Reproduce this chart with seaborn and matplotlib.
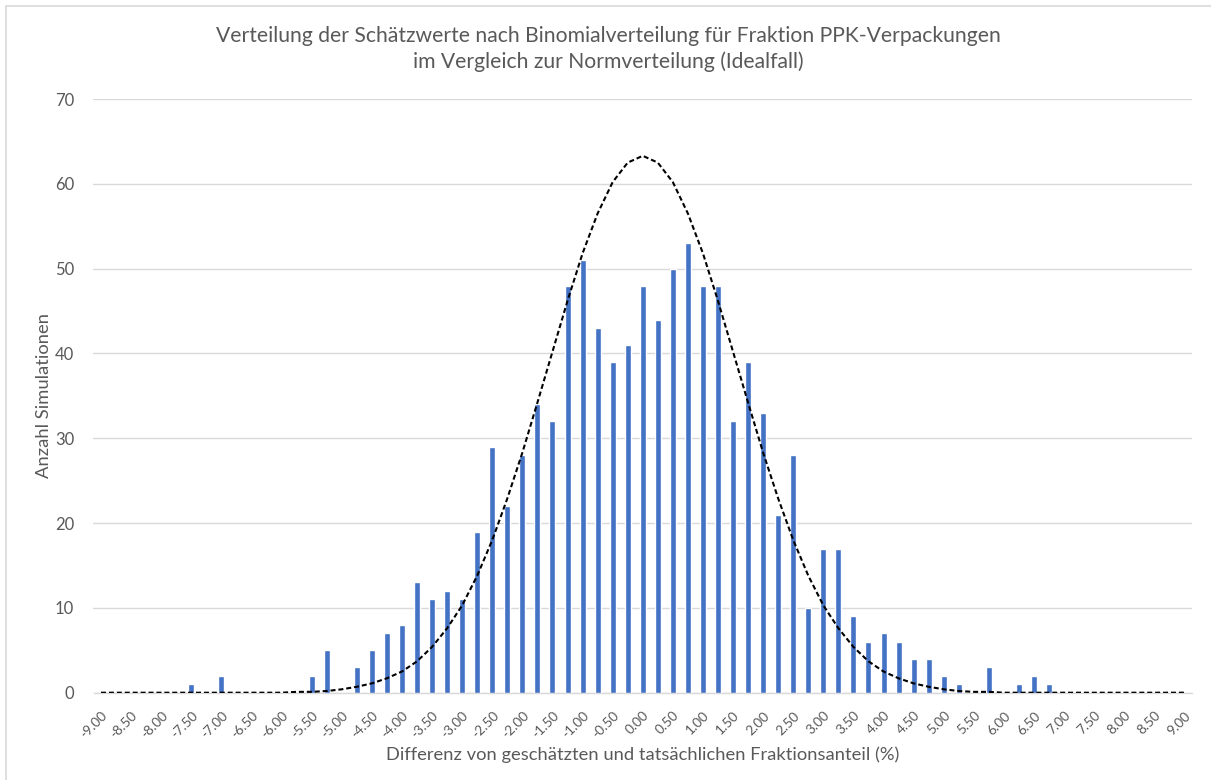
import numpy as np
import pandas as pd
import matplotlib
matplotlib.use("Agg")
import matplotlib.pyplot as plt
import seaborn as sns

# ---- data ----
categories = [f"{v:.2f}" for v in np.arange(-9.0, 9.001, 0.25)]

counts_nonzero = {
    "-7.50": 1, "-7.00": 2, "-5.50": 2, "-5.25": 5, "-4.75": 3, "-4.50": 5,
    "-4.25": 7, "-4.00": 8, "-3.75": 13, "-3.50": 11, "-3.25": 12, "-3.00": 11,
    "-2.75": 19, "-2.50": 29, "-2.25": 22, "-2.00": 28, "-1.75": 34, "-1.50": 32,
    "-1.25": 48, "-1.00": 51, "-0.75": 43, "-0.50": 39, "-0.25": 41, "0.00": 48,
    "0.25": 44, "0.50": 50, "0.75": 53, "1.00": 48, "1.25": 48, "1.50": 32,
    "1.75": 39, "2.00": 33, "2.25": 21, "2.50": 28, "2.75": 10, "3.00": 17,
    "3.25": 17, "3.50": 9, "3.75": 6, "4.00": 7, "4.25": 6, "4.50": 4,
    "4.75": 4, "5.00": 2, "5.25": 1, "5.75": 3, "6.25": 1, "6.50": 2, "6.75": 1,
}

# normal curve values read at each category (ideal case), from 0.00 outwards
normal_right = [63.3, 62.5, 60.2, 56.5, 51.8, 46.2, 40.2, 34.2, 28.3, 22.9,
                18.0, 13.8, 10.3, 7.6, 5.4, 3.7, 2.5, 1.7, 1.1, 0.7,
                0.4, 0.2, 0.1, 0.1, 0.0, 0.0, 0.0, 0.0, 0.0, 0.0,
                0.0, 0.0, 0.0, 0.0, 0.0, 0.0, 0.0]
normal_curve = normal_right[:0:-1] + normal_right

tick_labels = [f"{v:.2f}" for v in np.arange(-9.0, 9.001, 0.5)]

title = ("Verteilung der Schätzwerte nach Binomialverteilung für Fraktion PPK-Verpackungen\n"
         "im Vergleich zur Normverteilung (Idealfall)")
xlabel = "Differenz von geschätzten und tatsächlichen Fraktionsanteil (%)"
ylabel = "Anzahl Simulationen"

df = pd.DataFrame({
    "cat": categories,
    "count": [counts_nonzero.get(c, 0) for c in categories],
    "normal": normal_curve,
})

# ---- style ----
sns.set_theme(style="white")
plt.rcParams["font.family"] = ["Lato", "DejaVu Sans"]
GREY = "#595959"
GRID = "#D9D9D9"

fig = plt.figure(figsize=(12.11, 7.80), dpi=100)
ax = fig.add_axes([93.5 / 1211, 87.3 / 780, (1192 - 93.5) / 1211, (692.7 - 99) / 780])

sns.barplot(data=df, x="cat", y="count", order=categories, color="#4472C4",
            saturation=1, width=0.4, ax=ax, zorder=3)
sns.pointplot(data=df, x="cat", y="normal", order=categories, color="black",
              linestyle=(0, (2.4, 1.4)), marker="", linewidth=1.5,
              errorbar=None, ax=ax, zorder=4)

ax.set_xlim(-0.5, len(categories) - 0.5)
ax.set_ylim(0, 70)
ax.set_yticks(range(0, 71, 10))
ax.yaxis.grid(True, color=GRID, linewidth=1.0, zorder=0)
ax.set_axisbelow(True)
for s in ["top", "right", "left"]:
    ax.spines[s].set_visible(False)
ax.spines["bottom"].set_color(GRID)
ax.spines["bottom"].set_linewidth(1.0)

ax.set_xticks(range(0, len(categories), 2))
ax.set_xticklabels(tick_labels, rotation=45, ha="right", rotation_mode="anchor",
                   fontsize=9.8, color=GREY)
ax.tick_params(axis="x", length=0, pad=12)
ax.tick_params(axis="y", length=0, pad=14, labelsize=12, labelcolor=GREY)

ax.set_xlabel(xlabel, fontsize=13.2, color=GREY, labelpad=4)
ax.set_ylabel(ylabel, fontsize=13.2, color=GREY, labelpad=2)
fig.text(608 / 1211, 1 - 49 / 780, title, ha="center", va="center", fontsize=15.2,
         color=GREY, linespacing=1.35)

# chart area border
fig.patches.append(plt.Rectangle((6 / 1211, -0.01), 1.02, 1 - 6 / 780 + 0.01,
                                 transform=fig.transFigure, fill=False,
                                 edgecolor="#D9D9D9", linewidth=1.2))

fig.savefig("out.png", dpi=100, facecolor="white")
